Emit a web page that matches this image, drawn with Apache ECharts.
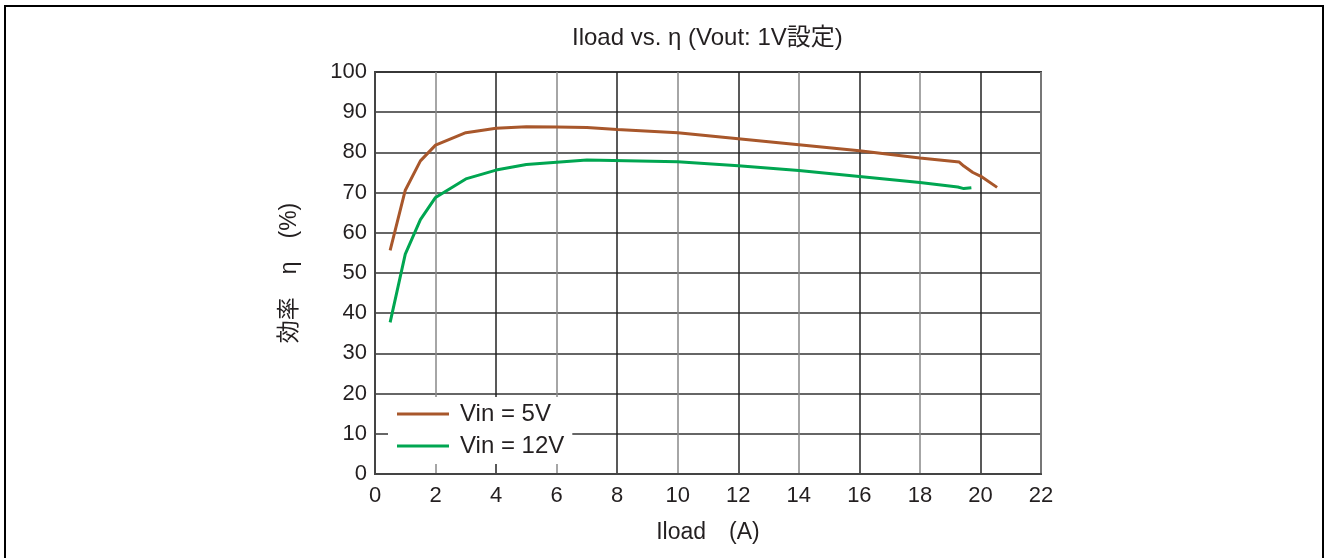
<!DOCTYPE html>
<html>
<head>
<meta charset="utf-8">
<script src="https://cdn.jsdelivr.net/npm/echarts@6/dist/echarts.min.js"></script>
<style>
html,body{margin:0;padding:0;background:#fff;}
#chart{width:1324px;height:558px;position:absolute;left:0;top:0;}
#frame{position:absolute;left:4px;top:5px;width:1316px;height:600px;border:2px solid #000;border-bottom:none;pointer-events:none;}
</style>
</head>
<body>
<div id="chart"></div>
<div id="frame"></div>
<script>
var titleText = 'Iload vs. η (Vout: 1V設定)';
var xName = 'Iload\u3000(A)';
var yName = '効率\u3000η\u3000(%)';
var seriesNames = ['Vin = 5V', 'Vin = 12V'];
var vin5 = [[0.5,55.6],[1,70.6],[1.5,77.9],[2,81.8],[3,84.9],[4,86.0],[5,86.4],[6,86.3],[7,86.2],[8,85.7],[10,84.9],[12,83.4],[14,81.9],[16,80.4],[18,78.6],[19.3,77.6],[19.45,76.6],[19.75,75.0],[20.05,73.9],[20.55,71.3]];
var vin12 = [[0.5,37.7],[1,54.7],[1.5,63.3],[2,68.8],[3,73.4],[4,75.6],[5,77.0],[7,78.1],[10,77.7],[12,76.7],[14,75.5],[16,74.0],[18,72.5],[19.25,71.4],[19.45,71.0],[19.7,71.2]];
var xTicks = [0,2,4,6,8,10,12,14,16,18,20,22];
var yTicks = [0,10,20,30,40,50,60,70,80,90,100];

var FONT = 'Liberation Sans, Arial, Noto Sans CJK JP, sans-serif';
var chart = echarts.init(document.getElementById('chart'), null, {renderer:'canvas'});
chart.setOption({
  animation:false,
  backgroundColor:'transparent',
  title:{text:titleText,left:572,top:26,padding:0,textStyle:{fontFamily:FONT,fontSize:24,fontWeight:'normal',color:'#231f20'}},
  grid:{left:375,right:283,top:72,bottom:84,show:true,borderColor:'#444',borderWidth:2},
  legend:{
    orient:'vertical',left:388,top:397,padding:[5,8,6,9],itemGap:8,
    backgroundColor:'#fff',icon:'rect',itemWidth:52,itemHeight:3,
    textStyle:{fontFamily:FONT,fontSize:24,color:'#231f20',lineHeight:24,padding:[0,0,0,6]},
    data:seriesNames
  },
  xAxis:{
    type:'value',min:xTicks[0],max:xTicks[xTicks.length-1],interval:2,
    name:xName,nameLocation:'middle',nameGap:47,
    nameTextStyle:{fontFamily:FONT,fontSize:23,color:'#231f20'},
    axisLine:{show:true,lineStyle:{color:'#444',width:2}},
    axisTick:{show:false},
    axisLabel:{fontFamily:FONT,fontSize:22,color:'#231f20',margin:11},
    splitLine:{show:true,lineStyle:{color:['#222','#888'],width:1.5}}
  },
  yAxis:{
    type:'value',min:yTicks[0],max:yTicks[yTicks.length-1],interval:10,
    name:yName,nameLocation:'middle',nameGap:74,nameRotate:90,
    nameTextStyle:{fontFamily:FONT,fontSize:23,color:'#231f20'},
    axisLine:{show:true,lineStyle:{color:'#444',width:2}},
    axisTick:{show:false},
    axisLabel:{fontFamily:FONT,fontSize:22,color:'#231f20',margin:8},
    splitLine:{show:true,lineStyle:{color:'#333',width:1.5}}
  },
  series:[
    {name:seriesNames[0],type:'line',data:vin5,showSymbol:false,symbol:'none',lineStyle:{color:'#a8572b',width:3},itemStyle:{color:'#a8572b'},z:3},
    {name:seriesNames[1],type:'line',data:vin12,showSymbol:false,symbol:'none',lineStyle:{color:'#00a651',width:3},itemStyle:{color:'#00a651'},z:3}
  ]
});
</script>
</body>
</html>
